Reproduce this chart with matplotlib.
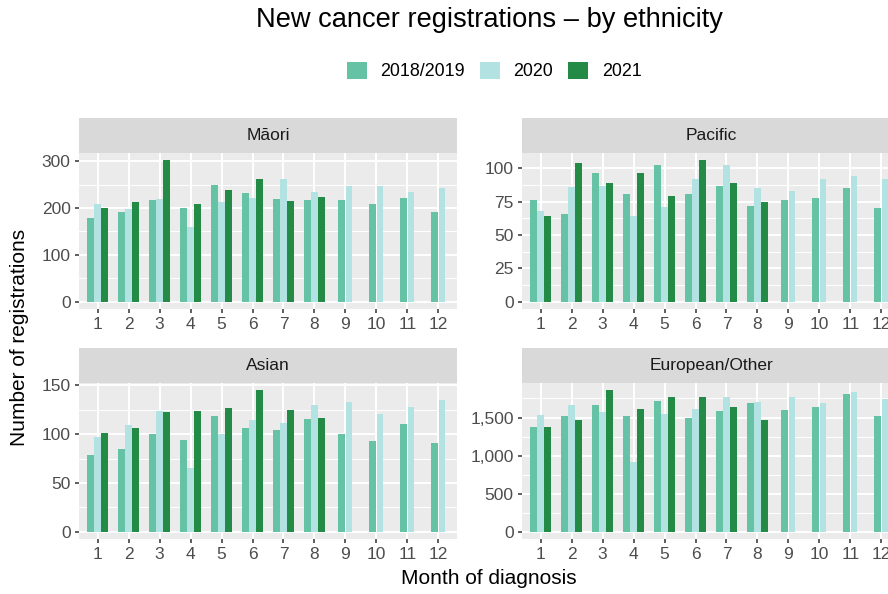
import matplotlib
matplotlib.use("Agg")
import matplotlib.pyplot as plt
from matplotlib.patches import Patch
from matplotlib.ticker import MultipleLocator, FuncFormatter

plt.rcParams['font.family'] = ['Liberation Sans', 'DejaVu Sans']

# --- data ---
months = list(range(1, 13))
series_labels = ["2018/2019", "2020", "2021"]
series_colors = ["#66C2A5", "#B2E2E2", "#238B45"]

maori_1819 = [179, 192, 217, 199, 249, 231, 220, 216, 216, 209, 222, 191]
maori_2020 = [209, 198, 220, 159, 213, 222, 261, 234, 246, 247, 235, 242]
maori_2021 = [201, 212, 302, 209, 239, 261, 214, 224]

pacific_1819 = [76, 66, 96, 81, 102, 81, 87, 72, 76, 78, 85, 70]
pacific_2020 = [68, 86, 87, 64, 71, 92, 102, 85, 83, 92, 94, 92]
pacific_2021 = [64, 104, 89, 96, 79, 106, 89, 75]

asian_1819 = [79, 85, 100, 94, 119, 106, 104, 115, 100, 93, 110, 91]
asian_2020 = [97, 109, 124, 65, 100, 114, 111, 130, 133, 121, 128, 135]
asian_2021 = [101, 106, 123, 124, 127, 145, 125, 116]

european_1819 = [1382, 1526, 1662, 1526, 1711, 1491, 1583, 1689, 1605, 1632, 1807, 1526]
european_2020 = [1535, 1658, 1579, 917, 1548, 1614, 1768, 1702, 1772, 1689, 1838, 1741]
european_2021 = [1377, 1465, 1860, 1618, 1772, 1772, 1632, 1474]

facet_names = ["Māori", "Pacific", "Asian", "European/Other"]
facet_data = [
    [maori_1819, maori_2020, maori_2021],
    [pacific_1819, pacific_2020, pacific_2021],
    [asian_1819, asian_2020, asian_2021],
    [european_1819, european_2020, european_2021],
]
y_steps = [100, 25, 50, 500]

W, H = 888, 594
fig = plt.figure(figsize=(W / 100, H / 100), dpi=100)


def rect(x0, y0, x1, y1):
    return [x0 / W, 1 - y1 / H, (x1 - x0) / W, (y1 - y0) / H]


# panel boxes in pixels: (left, strip top, panel top, panel bottom)
cols = [79, 522]
rows = [(118, 153, 309), (348, 383, 539)]
pw = 378

bar_w = 0.22
spacing = 0.23

for idx, (name, data, step) in enumerate(zip(facet_names, facet_data, y_steps)):
    r, c = divmod(idx, 2)
    x0 = cols[c]
    st, pt, pb = rows[r]

    ax = fig.add_axes(rect(x0, pt, x0 + pw, pb))
    ax.set_facecolor("#EBEBEB")

    # dodge: bars centred on each month, by number of series present
    n_at = [sum(1 for s in data if i < len(s)) for i in range(len(months))]
    for k, (vals, col) in enumerate(zip(data, series_colors)):
        xs = [months[i] + (k - (n_at[i] - 1) / 2) * spacing for i in range(len(vals))]
        ax.bar(xs, vals, width=bar_w, color=col, linewidth=0)

    ymax = max(max(s) for s in data)
    ax.set_ylim(-0.05 * ymax, 1.05 * ymax)
    ax.set_xlim(0.4, 12.6)
    ax.set_xticks(months)
    ax.yaxis.set_major_locator(MultipleLocator(step))
    ax.yaxis.set_minor_locator(MultipleLocator(step / 2))
    ax.yaxis.set_major_formatter(FuncFormatter(lambda v, p: f"{v:,.0f}"))

    ax.set_axisbelow(True)
    ax.grid(which="major", color="white", linewidth=1.4)
    ax.grid(which="minor", axis="y", color="white", linewidth=0.7)
    for sp in ax.spines.values():
        sp.set_visible(False)
    ax.tick_params(which="major", length=3, width=1.1, color="#333333",
                   labelcolor="#4D4D4D", labelsize=12.5, pad=3)
    ax.tick_params(which="minor", length=0)

    # strip
    sax = fig.add_axes(rect(x0, st, x0 + pw, pt))
    sax.set_facecolor("#D9D9D9")
    sax.set_xticks([])
    sax.set_yticks([])
    for sp in sax.spines.values():
        sp.set_visible(False)
    sax.text(0.5, 0.5, name, transform=sax.transAxes, ha="center", va="center",
             fontsize=12.5, color="#1A1A1A")

fig.text(489 / W, 1 - 20 / H, "New cancer registrations – by ethnicity",
         ha="center", va="center", fontsize=19.6)
fig.text(489 / W, 1 - 579 / H, "Month of diagnosis", ha="center", va="center", fontsize=15)
fig.text(20 / W, 1 - 337 / H, "Number of registrations", ha="center", va="center",
         rotation=90, fontsize=15)

handles = [Patch(facecolor=col, edgecolor="none") for col in series_colors]
fig.legend(handles, series_labels, loc="center", bbox_to_anchor=(494 / W, 1 - 71 / H),
           ncol=3, frameon=False, fontsize=12.9, handlelength=1.15, handleheight=1.15,
           handletextpad=0.75, columnspacing=0.8)

fig.savefig("out.png", dpi=100)
